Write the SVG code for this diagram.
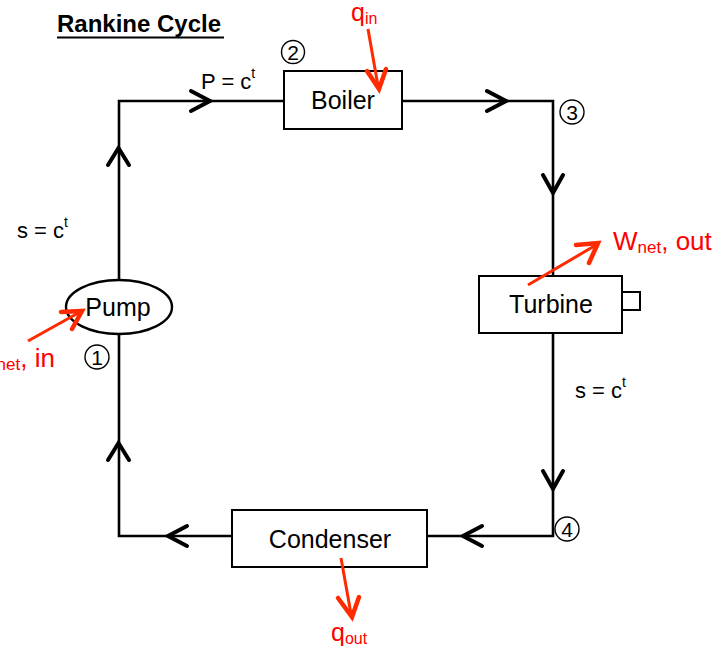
<svg xmlns="http://www.w3.org/2000/svg" width="722" height="651" viewBox="0 0 722 651">
<style>
text{font-family:"Liberation Sans",Arial,sans-serif;fill:#000}
.box{fill:#fff;stroke:#000;stroke-width:2}
.line{fill:none;stroke:#000;stroke-width:2.6}
.chev{fill:none;stroke:#000;stroke-width:4;stroke-linecap:round;stroke-linejoin:miter}
.red{fill:none;stroke:#ff2a00;stroke-width:3}
.redh{fill:none;stroke:#ff2a00;stroke-width:4.5;stroke-linecap:round;stroke-linejoin:miter}
.rt{fill:#ff0000}
.lab{font-size:25px}
.small{font-size:22px}
.num{font-size:21px}
.circ{fill:none;stroke:#000;stroke-width:1.4}
</style>
<rect width="722" height="651" fill="#fff"/>
<g id="title">
<text x="57" y="32" font-size="24" font-weight="bold">Rankine Cycle</text>
<line x1="57" y1="37.5" x2="224" y2="37.5" stroke="#000" stroke-width="1.8"/>
</g>
<g id="connectors">
<path class="line" d="M119 280 V101 H284"/>
<path class="line" d="M402 101 H553 V276"/>
<path class="line" d="M553 333 V536 H427"/>
<path class="line" d="M232 536 H119 V334"/>
<path class="chev" d="M191 91 L210 101 L191 111"/>
<path class="chev" d="M487 91 L506 101 L487 111"/>
<path class="chev" d="M543 175 L553 193 L563 175"/>
<path class="chev" d="M543 471 L553 489 L563 471"/>
<path class="chev" d="M482 526 L463 536 L482 546"/>
<path class="chev" d="M187 526 L168 536 L187 546"/>
<path class="chev" d="M108 165 L118.5 148 L129 165"/>
<path class="chev" d="M108 460 L118.5 443 L129 460"/>
</g>
<g id="boiler">
<rect class="box" x="284" y="71" width="118" height="58"/>
<text class="lab" x="343" y="109" text-anchor="middle">Boiler</text>
</g>
<g id="turbine">
<rect class="box" x="479" y="276" width="143" height="57"/>
<rect class="box" x="622" y="292" width="18" height="18"/>
<text class="lab" x="551" y="313" text-anchor="middle">Turbine</text>
</g>
<g id="condenser">
<rect class="box" x="232" y="510" width="195" height="57"/>
<text class="lab" x="330" y="548" text-anchor="middle">Condenser</text>
</g>
<g id="pump">
<ellipse cx="119" cy="307" rx="53" ry="27" fill="#fff" stroke="#000" stroke-width="2.4"/>
<text class="lab" x="118" y="316" text-anchor="middle">Pump</text>
</g>
<g id="states">
<circle class="circ" cx="97" cy="357" r="12"/><text class="num" x="97" y="364.5" text-anchor="middle">1</text>
<circle class="circ" cx="293" cy="52" r="11.5"/><text class="num" x="293" y="59.5" text-anchor="middle">2</text>
<circle class="circ" cx="572" cy="112" r="12"/><text class="num" x="572" y="119.5" text-anchor="middle">3</text>
<circle class="circ" cx="567" cy="529" r="12"/><text class="num" x="567" y="536.5" text-anchor="middle">4</text>
</g>
<g id="labels">
<text class="small" x="201" y="89">P = c<tspan font-size="14" dy="-11">t</tspan></text>
<text class="small" x="17" y="238">s = c<tspan font-size="14" dy="-11">t</tspan></text>
<text class="small" x="575" y="398">s = c<tspan font-size="14" dy="-11">t</tspan></text>
</g>
<g id="heat-work">
<line class="red" x1="368" y1="29" x2="378" y2="86"/>
<path class="redh" d="M367 71 L379 89 L386 69"/>
<text class="rt" x="351" y="21" font-size="25">q<tspan font-size="16" dy="3">in</tspan></text>
<line class="red" x1="528" y1="285" x2="596" y2="245"/>
<path class="redh" d="M576 245 L598 243 L589 263"/>
<text class="rt" x="613" y="250" font-size="26">W<tspan font-size="17" dy="3">net</tspan><tspan dy="-3">, out</tspan></text>
<line class="red" x1="28" y1="341" x2="80" y2="312"/>
<path class="redh" d="M61 312 L82 311 L72 329"/>
<text class="rt" x="-28" y="367" font-size="26">W<tspan font-size="17" dy="3">net</tspan><tspan dy="-3">, in</tspan></text>
<line class="red" x1="341" y1="558" x2="351" y2="614"/>
<path class="redh" d="M338 598 L352 617 L359 597"/>
<text class="rt" x="331" y="641" font-size="25">q<tspan font-size="16" dy="3">out</tspan></text>
</g>
</svg>
